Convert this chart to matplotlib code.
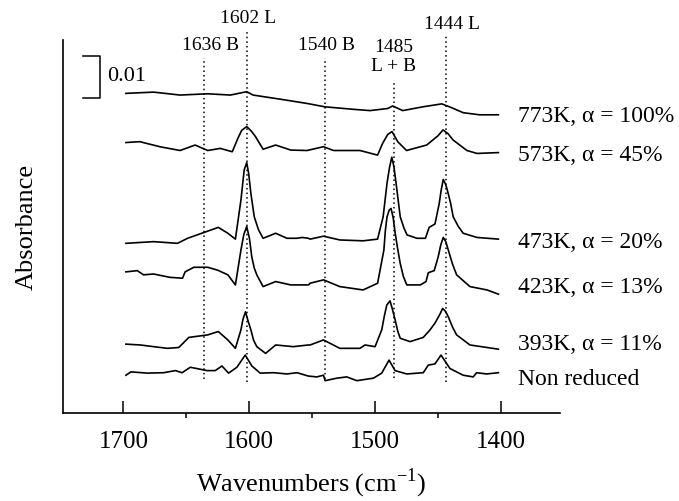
import numpy as np
import matplotlib
matplotlib.use("Agg")
import matplotlib.pyplot as plt

plt.rcParams["font.family"] = ["Liberation Serif", "DejaVu Serif"]
plt.rcParams["mathtext.fontset"] = "custom"
plt.rcParams["mathtext.rm"] = "Liberation Serif"

# spectra: wavenumber (cm-1) and stacked absorbance (x1e-3)
wn_773 = [1698, 1676, 1655, 1633, 1615, 1602, 1597, 1575, 1554, 1540, 1517, 1504, 1490, 1486,
          1478, 1462, 1447, 1440, 1430, 1417, 1402]
abs_773 = [76.1, 76.4, 75.7, 76.0, 75.7, 76.5, 75.7, 74.7, 73.7, 72.9, 72.3, 72.0, 72.5, 73.1,
           72.0, 72.9, 73.6, 72.8, 71.5, 71.0, 71.0]

wn_573 = [1698, 1687, 1671, 1655, 1643, 1633, 1623, 1613.5, 1609, 1606, 1602, 1598, 1595, 1589,
          1579, 1567, 1554, 1541, 1533, 1512, 1498, 1494, 1490, 1486.5, 1482, 1475, 1459, 1450,
          1446, 1442, 1438, 1427, 1419, 1402]
abs_573 = [64.4, 64.6, 63.4, 62.5, 63.8, 62.5, 63.0, 62.2, 65.4, 67.3, 68.2, 67.0, 65.8, 62.8,
           63.8, 62.6, 62.5, 63.4, 62.5, 62.5, 61.4, 64.2, 66.3, 67.0, 64.6, 62.5, 63.8, 66.0,
           67.4, 66.5, 65.0, 62.5, 61.8, 62.0]

wn_473 = [1698, 1676, 1657, 1649, 1633, 1624.6, 1617, 1611, 1608.5, 1606.6, 1604, 1602, 1600.5,
          1598.7, 1596, 1592.6, 1589, 1579, 1570, 1562, 1558, 1553, 1551.6, 1541, 1528, 1509.5,
          1498, 1493.6, 1490.5, 1488.5, 1486.7, 1485, 1483.3, 1480, 1477, 1474.6, 1466.7, 1460,
          1457, 1452.4, 1449, 1447.5, 1445.8, 1444, 1442.6, 1440, 1437.9, 1434, 1430, 1419, 1402]
abs_473 = [40.4, 40.8, 40.4, 41.6, 43.3, 44.2, 42.8, 41.4, 46.7, 50.7, 57.9, 59.6, 57.1,
           52.3, 46.7, 43.6, 41.6, 42.8, 41.6, 41.6, 41.8, 41.6, 41.4, 42.1, 41.2, 41.0,
           41.4, 46.7, 54.7, 58.5, 60.9, 58.6, 54.7, 46.7, 44.0, 42.4, 41.6, 41.6,
           44.2, 45.0, 49.9, 53.0, 55.6, 54.5, 53.1, 50.0, 46.7, 44.5, 42.8, 41.8, 41.4]

wn_423 = [1698, 1689, 1684, 1676, 1663, 1653, 1651, 1644, 1633, 1625, 1617, 1611, 1606.6, 1604.3,
          1602, 1599.8, 1598, 1596, 1594, 1589, 1579, 1567, 1553, 1551.6, 1541, 1528, 1509.5,
          1498, 1493, 1491.8, 1490.5, 1488.8, 1487.3, 1485.6, 1484, 1482, 1480, 1477.5, 1474.8,
          1464, 1459.5, 1457.7, 1453, 1449.8, 1447.8, 1445.8, 1443.8, 1441.8, 1438.5, 1435.2,
          1424.6, 1411, 1402]
abs_423 = [33.6, 33.9, 32.9, 33.1, 32.3, 32.1, 33.6, 34.7, 34.7, 34.0, 32.9, 30.5, 38.8, 42.5,
           44.4, 41.5, 37.2, 34.5, 32.9, 30.1, 31.3, 30.5, 30.5, 30.9, 31.7, 30.1, 29.3,
           30.9, 38.8, 43.5, 46.7, 48.3, 48.7, 46.5, 42.8, 39.0, 35.6, 32.5, 30.5,
           30.5, 31.3, 33.4, 33.9, 37.2, 40.0, 41.8, 40.8, 38.8, 35.5, 32.9,
           30.1, 29.3, 28.3]

wn_393 = [1698, 1686.5, 1676, 1665, 1656, 1648, 1633, 1624.6, 1617, 1611, 1606.6, 1605, 1603,
          1601, 1598.7, 1596.5, 1594, 1587, 1579, 1565, 1553, 1551.6, 1541, 1528, 1512, 1508,
          1500, 1494.7, 1492.7, 1490.7, 1488.1, 1486.3, 1484, 1482, 1480, 1472.2, 1461.7, 1456.3,
          1452.4, 1448.5, 1446.3, 1444, 1441.8, 1438.5, 1435.2, 1424.6, 1402]
abs_393 = [16.4, 16.2, 15.8, 15.4, 15.6, 18.0, 18.6, 19.4, 17.4, 15.4, 19.8, 22.3, 24.1,
           22.0, 19.8, 17.3, 15.8, 14.2, 16.2, 15.8, 16.2, 16.2, 17.4, 15.4, 15.4, 16.2,
           15.8, 19.8, 23.0, 25.7, 26.7, 24.8, 22.1, 19.5, 17.8, 17.0, 18.0, 19.8,
           21.4, 23.5, 24.9, 24.2, 22.9, 20.5, 18.6, 16.2, 15.2]

wn_non = [1698, 1694, 1681, 1668, 1658.7, 1653.4, 1646.8, 1633.6, 1627, 1621.7, 1616.4, 1609.8,
          1603.2, 1597.9, 1591.3, 1580.7, 1570, 1562, 1553, 1546.3, 1541, 1539.7, 1530.4, 1522.5,
          1514.5, 1501.3, 1494.7, 1488.9, 1484.1, 1474.8, 1461.7, 1457.7, 1452.4, 1447.6, 1440.5,
          1430, 1422, 1419.3, 1411.3, 1402]
abs_non = [9.0, 9.8, 9.5, 9.6, 10.1, 9.6, 10.9, 10.1, 10.1, 11.2, 9.5, 10.9,
           13.8, 11.2, 9.5, 9.6, 9.3, 9.6, 8.8, 8.6, 9.0, 7.7, 8.3, 8.6,
           7.7, 8.3, 9.5, 12.6, 10.1, 9.3, 9.6, 11.4, 11.7, 13.8, 10.6,
           9.0, 8.6, 9.6, 9.3, 9.6]

spectra = [(wn_773, abs_773), (wn_573, abs_573), (wn_473, abs_473),
           (wn_423, abs_423), (wn_393, abs_393), (wn_non, abs_non)]
labels = ["773K, α = 100%", "573K, α = 45%", "473K, α = 20%",
          "423K, α = 13%", "393K, α = 11%", "Non reduced"]
label_y = [70.7, 61.4, 40.7, 29.8, 16.2, 8.1]

# band markers: position, dotted line span, label
bands = [1636, 1602, 1540, 1485, 1444]
band_top = [84.5, 91.2, 84.5, 79.3, 89.8]
band_bottom = [8.1, 7.4, 8.1, 8.3, 7.4]
band_text = ["1636 B", "1602 L", "1540 B", "1485", "1444 L"]
band_text_x = [1631, 1600.8, 1538.9, 1485, 1439]
band_text_y = [87.6, 94.0, 87.6, 87.1, 92.6]

fig = plt.figure(figsize=(6.79, 5.01), dpi=100)
ax = fig.add_axes([0.0928, 0.1756, 0.732, 0.7445])

for w, a in spectra:
    ax.plot(w, a, color="black", lw=1.2, solid_joinstyle="round")

for i in range(len(labels)):
    ax.text(1386.5, label_y[i], labels[i], fontsize=17, ha="left", va="center")

for i in range(len(bands)):
    ax.plot([bands[i], bands[i]], [band_bottom[i], band_top[i]], color="black",
            lw=1.1, linestyle=(0, (1, 2)), clip_on=False)
    ax.text(band_text_x[i], band_text_y[i], band_text[i], fontsize=14, ha="center", va="center")
ax.text(1485, 82.4, "L + B", fontsize=14, ha="center", va="center")

# scale bar 0.01
ax.plot([1732.5, 1718.3, 1718.3, 1732.5], [85, 85, 75, 75], color="black", lw=1.1, clip_on=False)
ax.text(1712.7, 80, "0.01", fontsize=16, ha="left", va="center")

ax.set_xlim(1748, 1353)
ax.set_ylim(0, 88.8)
ax.set_xticks([1700, 1600, 1500, 1400])
ax.set_xticks([1650, 1550, 1450], minor=True)
ax.tick_params(axis="x", which="major", direction="in", length=8.6, width=1.1,
               labelsize=18, pad=13)
ax.tick_params(axis="x", which="minor", direction="out", length=3.6, width=1.1)
ax.set_yticks([])
ax.spines["top"].set_visible(False)
ax.spines["right"].set_visible(False)
ax.spines["left"].set_linewidth(1.2)
ax.spines["bottom"].set_linewidth(1.2)

ax.set_xlabel(r"Wavenumbers (cm$^{\mathregular{-1}}$)", fontsize=19, labelpad=10)
ax.set_ylabel("Absorbance", fontsize=19, labelpad=18)

fig.savefig("out.png", dpi=100)
